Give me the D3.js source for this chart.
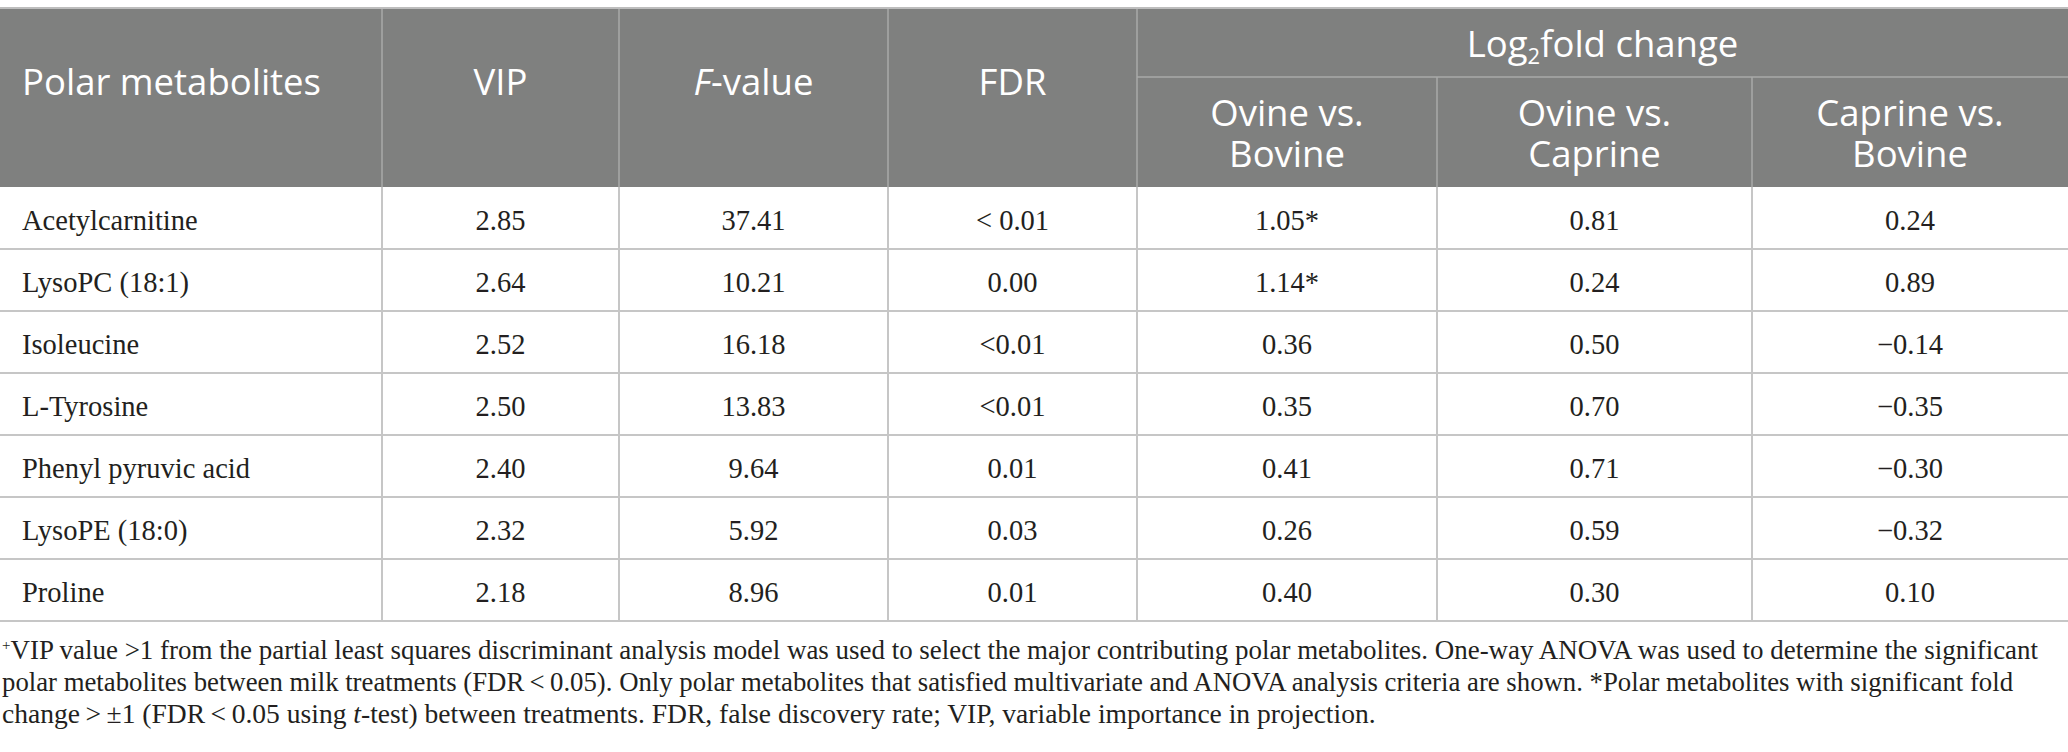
<!DOCTYPE html>
<html>
<head>
<meta charset="utf-8">
<script src="https://cdn.jsdelivr.net/npm/d3@7"></script>
<style>
  html, body { margin: 0; padding: 0; background: #ffffff; }
  svg { display: block; }
</style>
</head>
<body>
<svg id="chart" width="2068" height="752"></svg>
<script>
// ---------------- data ----------------
const metabolites = ["Acetylcarnitine", "LysoPC (18:1)", "Isoleucine", "L-Tyrosine",
                     "Phenyl pyruvic acid", "LysoPE (18:0)", "Proline"];
const vip = [2.85, 2.64, 2.52, 2.50, 2.40, 2.32, 2.18];
const fValue = [37.41, 10.21, 16.18, 13.83, 9.64, 5.92, 8.96];
const fdr = ["< 0.01", "0.00", "<0.01", "<0.01", "0.01", "0.03", "0.01"];
const ovineVsBovine = [1.05, 1.14, 0.36, 0.35, 0.41, 0.26, 0.40];
const ovineVsBovineSig = [true, true, false, false, false, false, false];
const ovineVsCaprine = [0.81, 0.24, 0.50, 0.70, 0.71, 0.59, 0.30];
const caprineVsBovine = [0.24, 0.89, -0.14, -0.35, -0.30, -0.32, 0.10];

const columnKeys = ["name", "vip", "f", "fdr", "ob", "oc", "cb"];
const subHeads = [["ob", "Ovine vs.", "Bovine"], ["oc", "Ovine vs.", "Caprine"], ["cb", "Caprine vs.", "Bovine"]];
const footnoteLines = [
  [{t: "+", sup: true}, {t: "VIP value >1 from the partial least squares discriminant analysis model was used to select the major contributing polar metabolites. One-way ANOVA was used to determine the significant"}],
  [{t: "polar metabolites between milk treatments (FDR\u2009<\u20090.05). Only polar metabolites that satisfied multivariate and ANOVA analysis criteria are shown. *Polar metabolites with significant fold"}],
  [{t: "change\u2009>\u2009\u00b11 (FDR\u2009<\u20090.05 using "}, {t: "t", it: true}, {t: "-test) between treatments. FDR, false discovery rate; VIP, variable importance in projection."}]
];

// ---------------- layout ----------------
const W = 2068;
const colEdges = [0, 382, 619, 888, 1137, 1437, 1752, 2068];
const headTop = 8, subLine = 77, headBottom = 187, tableBottom = 621;
const headerFill = "#7f807f";
const gridCol = "#c6c6c6";
const headGrid = "#a9aaa9";
const headFont = "'Open Sans', 'Noto Sans', sans-serif";
const bodyFont = "'Liberation Serif', 'DejaVu Serif', serif";

const fmt = d3.format(".2f");
const rows = metabolites.map((m, i) => ({
  name: m,
  vip: fmt(vip[i]),
  f: fmt(fValue[i]),
  fdr: fdr[i],
  ob: fmt(ovineVsBovine[i]) + (ovineVsBovineSig[i] ? "*" : ""),
  oc: fmt(ovineVsCaprine[i]),
  cb: fmt(caprineVsBovine[i])
}));

const svg = d3.select("#chart");
const x = d3.scaleOrdinal().domain(columnKeys).range(colEdges.slice(0, -1));
const xEnd = d3.scaleOrdinal().domain(columnKeys).range(colEdges.slice(1));
const y = d3.scaleBand().domain(metabolites).range([headBottom, tableBottom]);

// header background
svg.append("rect").attr("x", 0).attr("y", headTop).attr("width", W)
   .attr("height", headBottom - headTop).attr("fill", headerFill);

// header grid lines
const hg = svg.append("g").attr("stroke", headGrid).attr("stroke-width", 1.5);
[382, 619, 888, 1137].forEach(xx => hg.append("line").attr("x1", xx).attr("x2", xx).attr("y1", headTop).attr("y2", headBottom));
[1437, 1752].forEach(xx => hg.append("line").attr("x1", xx).attr("x2", xx).attr("y1", subLine).attr("y2", headBottom));
hg.append("line").attr("x1", 1137).attr("x2", W).attr("y1", subLine).attr("y2", subLine);

// top border
svg.append("line").attr("x1", 0).attr("x2", W).attr("y1", headTop).attr("y2", headTop)
   .attr("stroke", "#bdbdbd").attr("stroke-width", 2);

// header text
const ht = svg.append("g").attr("fill", "#ffffff").attr("font-family", headFont)
   .attr("font-size", 36.5);
ht.append("text").attr("x", 22).attr("y", 95).text("Polar metabolites");
ht.append("text").attr("x", (x("vip") + xEnd("vip")) / 2).attr("y", 95).attr("text-anchor", "middle").text("VIP");
const fv = ht.append("text").attr("x", (x("f") + xEnd("f")) / 2).attr("y", 95).attr("text-anchor", "middle");
fv.append("tspan").attr("font-style", "italic").text("F");
fv.append("tspan").text("-value");
ht.append("text").attr("x", (x("fdr") + xEnd("fdr")) / 2).attr("y", 95).attr("text-anchor", "middle").text("FDR");
const lg = ht.append("text").attr("x", (1137 + W) / 2).attr("y", 57).attr("text-anchor", "middle");
lg.append("tspan").text("Log");
lg.append("tspan").attr("font-size", 22).attr("dy", 7).text("2");
lg.append("tspan").attr("dy", -7).text("fold change");
subHeads.forEach(([k, a, b]) => {
  const cx = (x(k) + xEnd(k)) / 2;
  const t = ht.append("text").attr("y", 126).attr("text-anchor", "middle");
  t.append("tspan").attr("x", cx).text(a);
  t.append("tspan").attr("x", cx).attr("dy", 41).text(b);
});

// body grid
const bg = svg.append("g").attr("stroke", gridCol).attr("stroke-width", 2);
metabolites.forEach(m => {
  bg.append("line").attr("x1", 0).attr("x2", W).attr("y1", y(m) + y.bandwidth()).attr("y2", y(m) + y.bandwidth());
});
colEdges.slice(1, -1).forEach(xx => bg.append("line").attr("x1", xx).attr("x2", xx).attr("y1", headBottom).attr("y2", tableBottom));

// body text
const bt = svg.append("g").attr("fill", "#231f20").attr("font-family", bodyFont).attr("font-size", 28.5);
rows.forEach(r => {
  const by = y(r.name) + y.bandwidth() / 2 + 12;
  columnKeys.forEach(k => {
    if (k === "name") {
      bt.append("text").attr("x", 22).attr("y", by).text(r[k]);
    } else {
      bt.append("text").attr("x", (x(k) + xEnd(k)) / 2).attr("y", by)
        .attr("text-anchor", "middle").text(r[k]);
    }
  });
});

// footnote
const fnBase = [659, 691, 723];
const fnTarget = [[2, 2039], [2, 2014], [2, 1376]];
const fg = svg.append("g").attr("fill", "#231f20").attr("font-family", bodyFont);
footnoteLines.forEach((parts, i) => {
  const t = fg.append("text").attr("x", fnTarget[i][0]).attr("y", fnBase[i]).attr("font-size", 25);
  parts.forEach((p, j) => {
    const ts = t.append("tspan").text(p.t);
    if (p.it) ts.attr("font-style", "italic");
    if (p.sup) ts.attr("font-size", 15).attr("dy", -9);
    if (j > 0 && parts[j - 1].sup) ts.attr("dy", 9);
  });
  const w = t.node().getComputedTextLength();
  const target = fnTarget[i][1] - fnTarget[i][0];
  t.attr("font-size", 25 * target / w);
});
</script>
</body>
</html>
